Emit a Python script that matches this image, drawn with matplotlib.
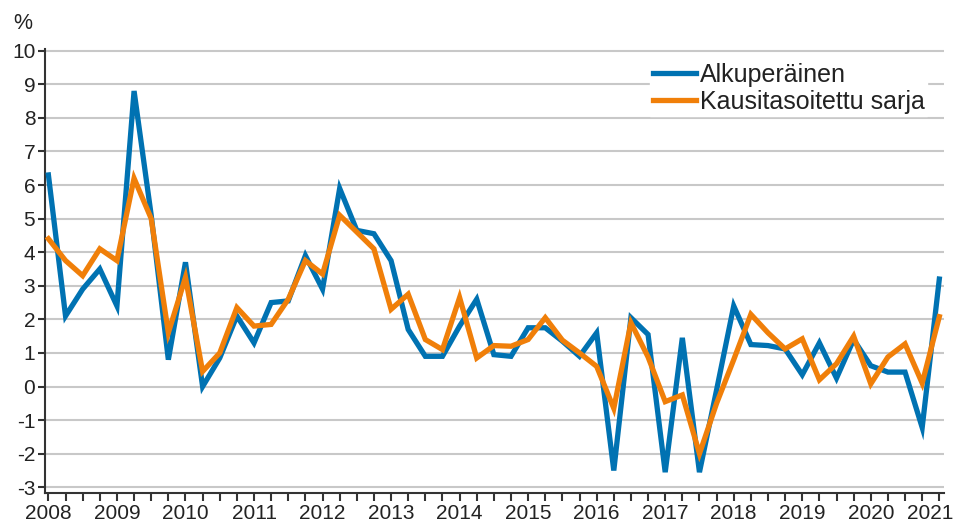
import matplotlib
matplotlib.use("Agg")
import matplotlib.pyplot as plt
import matplotlib.transforms as mtransforms
import numpy as np

years = list(range(2008, 2022))
quarters = [f"{y}Q{q}" for y in range(2008, 2022) for q in range(1, 5)][:53]

alkuperainen = [
    6.3, 2.1, 2.9, 3.5,
    2.4, 8.8, 5.1, 0.8,
    3.7, 0.0, 0.85, 2.1,
    1.3, 2.5, 2.55, 3.9,
    2.9, 5.9, 4.65, 4.55,
    3.75, 1.7, 0.9, 0.9,
    1.8, 2.6, 0.95, 0.9,
    1.75, 1.75, 1.35, 0.9,
    1.6, -2.5, 2.05, 1.55,
    -2.55, 1.45, -2.55, -0.1,
    2.4, 1.25, 1.22, 1.12,
    0.35, 1.3, 0.25, 1.4,
    0.62, 0.43, 0.43, -1.22,
    3.2,
]
kausitasoitettu = [
    4.4, 3.75, 3.3, 4.1,
    3.75, 6.2, 5.0, 1.6,
    3.25, 0.45, 1.0, 2.35,
    1.8, 1.85, 2.6, 3.75,
    3.35, 5.1, 4.6, 4.1,
    2.3, 2.75, 1.4, 1.1,
    2.65, 0.85, 1.22, 1.2,
    1.4, 2.05, 1.38, 1.0,
    0.6, -0.65, 1.9, 0.88,
    -0.45, -0.25, -2.0, -0.5,
    0.8, 2.15, 1.6, 1.12,
    1.42, 0.2, 0.68, 1.5,
    0.08, 0.88, 1.27, 0.1,
    2.08,
]
series_names = ["Alkuperäinen", "Kausitasoitettu sarja"]
yticks = list(range(-3, 11))

plt.rcParams['font.family'] = ['Liberation Sans', 'DejaVu Sans']

fig = plt.figure(figsize=(9.57, 5.27), dpi=100)
ax = fig.add_axes([0.047, 0.0645, 0.939, 0.8425])

x = np.arange(len(quarters))
ax.plot(x, alkuperainen, color='#0072B2', lw=3.8, solid_joinstyle='miter', label=series_names[0], zorder=3)
ax.plot(x, kausitasoitettu, color='#F07F09', lw=3.8, solid_joinstyle='miter', label=series_names[1], zorder=4)

ax.set_xlim(-0.2, len(quarters) - 1 + 0.25)
ax.set_ylim(-3.17, 10.05)
ax.set_yticks(yticks)
ax.set_yticklabels([str(v) for v in yticks])
ax.set_xticks(x)
ax.set_xticklabels([q[:4] if q.endswith("Q1") else "" for q in quarters])

ax.grid(axis='y', color='#c8c8c8', lw=1.5, zorder=1)
ax.set_axisbelow(True)
for s in ['top', 'right']:
    ax.spines[s].set_visible(False)
for s in ['left', 'bottom']:
    ax.spines[s].set_color('#333333')
    ax.spines[s].set_linewidth(1.5)
ax.tick_params(axis='x', length=6, width=1.5, color='#333333', labelsize=15, labelcolor='#222222', pad=2)
ax.tick_params(axis='y', length=5, width=1.5, color='#333333', labelsize=15, labelcolor='#222222', pad=2)

# shift the last year label slightly left so it stays inside the figure
last_lbl = ax.get_xticklabels()[-1]
last_lbl.set_transform(last_lbl.get_transform() +
                       mtransforms.ScaledTranslation(-9 / 100, 0, fig.dpi_scale_trans))

fig.text(0.014, 0.935, "%", fontsize=15.5, color='#222222', ha='left', va='bottom')

leg = ax.legend(loc='upper right', bbox_to_anchor=(0.982, 0.975), fontsize=18, frameon=True,
                handlelength=1.75, handletextpad=0.15, labelspacing=0.12, borderpad=0.1,
                borderaxespad=0.0, fancybox=False)
leg.get_frame().set_edgecolor('white')
leg.get_frame().set_facecolor('white')
leg.get_frame().set_alpha(1.0)
for t in leg.get_texts():
    t.set_color('#222222')

fig.savefig("out.png", dpi=100)
